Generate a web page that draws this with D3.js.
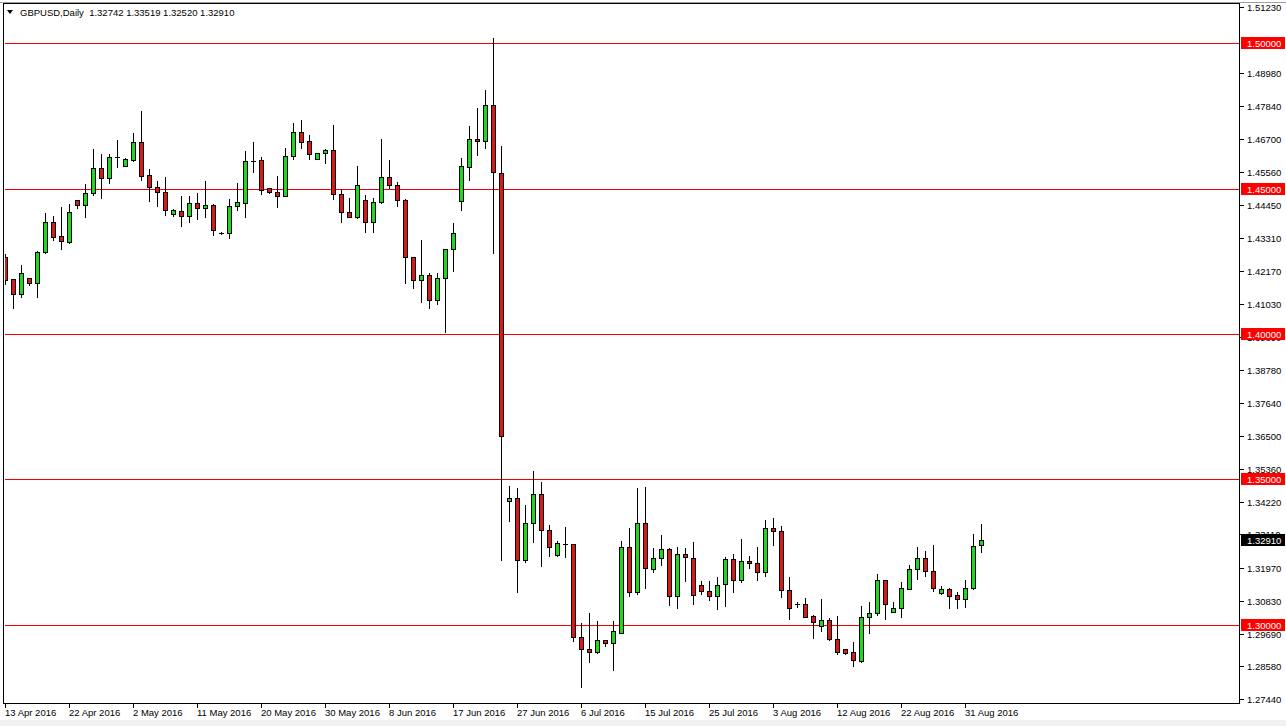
<!DOCTYPE html>
<html>
<head>
<meta charset="utf-8">
<script src="https://cdn.jsdelivr.net/npm/d3@7/dist/d3.min.js"></script>
<style>
html,body{margin:0;padding:0;background:#fff;}
svg{display:block;}
text{font-family:"Liberation Sans",Arial,sans-serif;}
line,rect{shape-rendering:crispEdges;}
</style>
</head>
<body>
<svg id="chart" width="1286" height="726"></svg>
<script>
// ---------------- data ----------------
const symbolTitle = "GBPUSD,Daily";
const headerValues = ["1.32742", "1.33519", "1.32520", "1.32910"];

const opens = [1.42646,1.41891,1.41365,1.41915,1.41763,1.42808,1.43839,1.43368,1.43172,1.44605,
1.44423,1.44835,1.45695,1.45351,1.46093,1.45784,1.4598,1.46587,1.45454,1.45041,
1.4487,1.44114,1.44217,1.44065,1.44492,1.4432,1.44433,1.43481,1.43481,1.44399,
1.44513,1.45956,1.4598,1.45007,1.4487,1.44753,1.46107,1.46932,1.46622,1.46004,
1.4621,1.46313,1.44801,1.44182,1.44031,1.44595,1.43839,1.44526,1.45385,1.4511,
1.44605,1.42646,1.41846,1.42028,1.41158,1.41915,1.42911,1.4456,1.45729,1.46691,
1.46622,1.47859,1.45543,1.34262,1.34354,1.32224,1.33495,1.34502,1.33255,1.32416,
1.32784,1.32774,1.29578,1.29166,1.29062,1.29475,1.29372,1.29736,1.32669,1.31137,
1.33495,1.31913,1.32293,1.32602,1.31007,1.32431,1.32319,1.31386,1.31184,1.31007,
1.3142,1.32256,1.31558,1.32198,1.32119,1.31809,1.33323,1.3323,1.31213,1.30723,
1.30712,1.30301,1.29981,1.30162,1.29509,1.29166,1.29062,1.28779,1.30266,1.30397,
1.31558,1.30458,1.30575,1.31244,1.31931,1.3231,1.31863,1.31089,1.31227,1.31031,
1.30884,1.31278,1.32742];

const highs = [1.42784,1.41925,1.42406,1.41949,1.42887,1.44182,1.4409,1.44399,1.44492,1.4465,
1.45179,1.46382,1.4621,1.4621,1.46691,1.46072,1.46932,1.47698,1.45695,1.45292,
1.45419,1.4432,1.44767,1.44767,1.4488,1.45292,1.44492,1.43541,1.44663,1.45234,
1.46323,1.46643,1.46117,1.45041,1.45464,1.46416,1.47286,1.47378,1.46863,1.46265,
1.46402,1.47217,1.45007,1.44698,1.45808,1.44811,1.44719,1.46746,1.46014,1.45258,
1.44684,1.4269,1.43265,1.42141,1.42141,1.42939,1.43839,1.46072,1.47183,1.47791,
1.4841,1.50196,1.46495,1.34811,1.34732,1.34159,1.35327,1.34959,1.33472,1.32921,
1.33392,1.32791,1.30114,1.30437,1.30172,1.2952,1.30172,1.32921,1.33358,1.34753,
1.34777,1.32669,1.33117,1.32669,1.32724,1.3268,1.32887,1.31558,1.31558,1.31697,
1.3237,1.32462,1.3298,1.32394,1.32714,1.3364,1.33701,1.33436,1.31672,1.30837,
1.30953,1.3038,1.30919,1.30287,1.30345,1.292,1.29451,1.30688,1.30825,1.31775,
1.31592,1.30825,1.315,1.32085,1.32724,1.32585,1.32783,1.31375,1.31295,1.31169,
1.31571,1.33152,1.33519];

const lows = [1.41719,1.40894,1.41282,1.41674,1.41282,1.42784,1.43231,1.42932,1.43138,1.44341,
1.44011,1.44777,1.44684,1.452,1.45749,1.45773,1.45945,1.45292,1.44581,1.44409,
1.4409,1.44065,1.43722,1.43859,1.43942,1.44031,1.43403,1.43427,1.43289,1.44262,
1.44011,1.45578,1.44811,1.44835,1.44375,1.44726,1.46004,1.46382,1.46014,1.45997,
1.45867,1.4464,1.43839,1.44011,1.43976,1.43495,1.43516,1.44492,1.45007,1.44409,
1.41763,1.41571,1.4111,1.40883,1.41021,1.4008,1.42176,1.44262,1.45292,1.46143,
1.46375,1.42784,1.32234,1.33585,1.31145,1.32155,1.32842,1.32018,1.32382,1.32382,
1.32348,1.29461,1.2788,1.28739,1.29028,1.29289,1.28454,1.29715,1.30999,1.31058,
1.31288,1.31831,1.32063,1.30688,1.30595,1.31525,1.30723,1.31081,1.3086,1.3054,
1.30653,1.31137,1.31465,1.31962,1.31558,1.31685,1.32749,1.30965,1.30198,1.30609,
1.30266,1.29546,1.29788,1.29485,1.28993,1.28993,1.28602,1.28745,1.29715,1.30355,
1.30198,1.30447,1.30287,1.31233,1.31573,1.31685,1.31179,1.31055,1.30575,1.30575,
1.30609,1.31244,1.3252];

const closes = [1.41856,1.41375,1.42086,1.41763,1.42808,1.43839,1.43323,1.43186,1.44182,1.44423,
1.44835,1.45695,1.45351,1.46072,1.46093,1.46004,1.46587,1.4544,1.45041,1.4488,
1.44251,1.44272,1.44065,1.44502,1.4432,1.44433,1.43564,1.43481,1.44399,1.44537,
1.45945,1.45956,1.44949,1.4487,1.44753,1.46107,1.46932,1.46608,1.46176,1.4621,
1.46323,1.44801,1.44182,1.44031,1.4511,1.43839,1.44526,1.45385,1.4511,1.44605,
1.42646,1.41846,1.42028,1.41158,1.41915,1.42911,1.43461,1.45763,1.46691,1.46622,
1.47859,1.4555,1.36505,1.34354,1.32224,1.33495,1.34502,1.33255,1.32669,1.32808,
1.32784,1.29578,1.29166,1.29062,1.29475,1.29372,1.29784,1.32669,1.31145,1.33495,
1.31948,1.32293,1.32602,1.30999,1.32431,1.32321,1.31047,1.31184,1.30999,1.31386,
1.32256,1.31558,1.32198,1.32119,1.31809,1.33323,1.3324,1.31213,1.30581,1.30723,
1.30287,1.30095,1.30172,1.29509,1.29082,1.29048,1.28786,1.30276,1.30403,1.31558,
1.30733,1.30575,1.31278,1.31931,1.3231,1.31863,1.31281,1.31227,1.30999,1.30884,
1.31278,1.3272,1.3291];

// date labels, one every 8 bars starting at bar 0
const dateLabels = ["13 Apr 2016","22 Apr 2016","2 May 2016","11 May 2016","20 May 2016","30 May 2016",
"8 Jun 2016","17 Jun 2016","27 Jun 2016","6 Jul 2016","15 Jul 2016","25 Jul 2016","3 Aug 2016",
"12 Aug 2016","22 Aug 2016","31 Aug 2016"];
const dateLabelBars = [0,8,16,24,32,40,48,56,64,72,80,88,96,104,112,120];

const priceTicks = ["1.51230","1.48980","1.47840","1.46700","1.45560","1.44450","1.43310","1.42170",
"1.41030","1.39890","1.38780","1.37640","1.36500","1.35360","1.34220","1.33110","1.31970","1.30830",
"1.29690","1.28580","1.27440"];

const levelLines = [1.50, 1.45, 1.40, 1.35, 1.30];
const levelLabels = ["1.50000","1.45000","1.40000","1.35000","1.30000"];
const lastPrice = 1.32910;
const lastPriceLabel = "1.32910";

// ---------------- layout ----------------
const W = 1286, H = 726;
const plot = {left: 4, right: 1240, top: 4, bottom: 704};
const N = opens.length;
const svg = d3.select("#chart");

const x = d3.scaleLinear().domain([0, N - 1]).range([5.5, 5.5 + 8 * (N - 1)]);
const y = d3.scaleLinear().domain([1.5, 1.3]).range([43.5, 625.5]);
const py = v => Math.round(y(v) - 0.5) + 0.5;

const GREEN = "#22d622", RED = "#d61a1a", LEVEL = "#f00000";

// background
svg.append("rect").attr("x", 0).attr("y", 0).attr("width", W).attr("height", H).attr("fill", "#ffffff");
svg.append("rect").attr("x", 0).attr("y", 720).attr("width", W).attr("height", 6).attr("fill", "#f0f0f0");

// clip
svg.append("clipPath").attr("id", "plotclip").append("rect")
  .attr("x", plot.left + 1).attr("y", plot.top + 1)
  .attr("width", plot.right - plot.left - 1).attr("height", plot.bottom - plot.top - 1);

const g = svg.append("g").attr("clip-path", "url(#plotclip)");

// level lines
g.selectAll("line.level").data(levelLines).enter().append("line")
  .attr("x1", plot.left).attr("x2", plot.right)
  .attr("y1", d => py(d)).attr("y2", d => py(d))
  .attr("stroke", LEVEL).attr("stroke-width", 1);

// candles
const idx = d3.range(N);
const candles = g.selectAll("g.candle").data(idx).enter().append("g");
candles.append("line")
  .attr("x1", i => x(i)).attr("x2", i => x(i))
  .attr("y1", i => py(highs[i])).attr("y2", i => py(lows[i]) + 0.5)
  .attr("stroke", "#000").attr("stroke-width", 1);
candles.each(function(i) {
  const o = opens[i], c = closes[i];
  const yt = py(Math.max(o, c)), yb = py(Math.min(o, c));
  const sel = d3.select(this);
  if (yb - yt < 1) {
    sel.append("line").attr("x1", x(i) - 2.5).attr("x2", x(i) + 2.5)
      .attr("y1", yt).attr("y2", yt).attr("stroke", "#000").attr("stroke-width", 1);
  } else {
    sel.append("rect").attr("x", x(i) - 2).attr("width", 4)
      .attr("y", yt).attr("height", yb - yt)
      .attr("fill", c >= o ? GREEN : RED).attr("stroke", "#000").attr("stroke-width", 1);
  }
});

// frame
svg.append("rect").attr("x", 3.5).attr("y", 3.5).attr("width", 1236).attr("height", 700)
  .attr("fill", "none").attr("stroke", "#000").attr("stroke-width", 1);
svg.append("line").attr("x1", 0).attr("x2", W).attr("y1", 2.5).attr("y2", 2.5).attr("stroke", "#a0a0a0");

// price axis ticks & labels
const pa = svg.append("g");
pa.selectAll("line").data(priceTicks).enter().append("line")
  .attr("x1", plot.right).attr("x2", plot.right + 4)
  .attr("y1", d => py(+d)).attr("y2", d => py(+d)).attr("stroke", "#000");
pa.selectAll("text").data(priceTicks).enter().append("text")
  .attr("x", 1247).attr("y", d => py(+d) + 3.5)
  .attr("font-size", "9.5px").attr("fill", "#000").text(d => d);

// level price labels
const ll = svg.append("g");
ll.selectAll("rect").data(levelLines).enter().append("rect")
  .attr("x", 1241).attr("y", d => py(d) - 6.5).attr("width", 44).attr("height", 12)
  .attr("fill", "#ff0000");
ll.selectAll("text").data(levelLabels).enter().append("text")
  .attr("x", 1247).attr("y", (d, i) => py(levelLines[i]) + 3.5)
  .attr("font-size", "9.5px").attr("fill", "#fff").text(d => d);

// last price label
svg.append("rect").attr("x", 1241).attr("y", py(lastPrice) - 6.5).attr("width", 44).attr("height", 12).attr("fill", "#000");
svg.append("text").attr("x", 1247).attr("y", py(lastPrice) + 3.5)
  .attr("font-size", "9.5px").attr("fill", "#fff").text(lastPriceLabel);

// date axis
const da = svg.append("g");
da.selectAll("line").data(dateLabelBars).enter().append("line")
  .attr("x1", d => x(d)).attr("x2", d => x(d))
  .attr("y1", plot.bottom).attr("y2", plot.bottom + 4).attr("stroke", "#000");
da.selectAll("text").data(dateLabels).enter().append("text")
  .attr("x", (d, i) => x(dateLabelBars[i]) - 0.5).attr("y", 716)
  .attr("font-size", "9.5px").attr("fill", "#000").text(d => d);

// header
svg.append("path").attr("d", "M7,10 L13,10 L10,14 Z").attr("fill", "#000");
svg.append("text").attr("x", 20).attr("y", 16).attr("font-size", "9.5px").attr("fill", "#000")
  .attr("xml:space", "preserve")
  .text(symbolTitle + "  " + headerValues.join(" "));
</script>
</body>
</html>
